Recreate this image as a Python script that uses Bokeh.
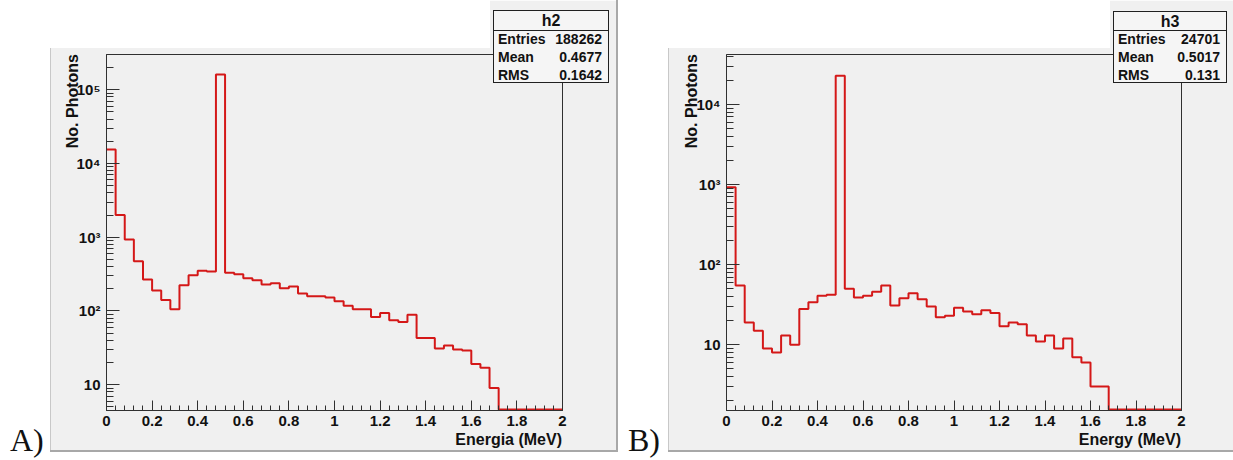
import math
from bokeh.plotting import figure
from bokeh.models import Range1d, FixedTicker, GridBox, Div
from bokeh.embed import file_html
from bokeh.resources import INLINE

# ---------------- data ----------------
X_LO, X_HI, N_BINS = 0.0, 2.0, 50
COUNTS_A = [15500, 2000, 930, 473, 267, 189, 141, 105, 223, 305, 350, 343, 161000,
            329, 315, 278, 261, 228, 238, 203, 214, 172, 158, 158, 152, 135, 118,
            105, 105, 83, 94, 75, 71, 89, 43, 43, 31, 34, 30, 29, 19, 17, 9,
            0, 0, 0, 0, 0, 0, 0]
COUNTS_B = [925, 55, 19, 15, 9, 8, 13, 10, 28, 34, 41, 42, 22800,
            50, 39, 41, 46, 55, 31, 38, 44, 37, 30, 22, 23, 29,
            26, 24, 27, 25, 17, 19, 18, 13, 11, 13, 9, 12, 7, 6, 3, 3,
            0, 0, 0, 0, 0, 0, 0, 0]
X_TICKS = [0.0, 0.2, 0.4, 0.6, 0.8, 1.0, 1.2, 1.4, 1.6, 1.8, 2.0]
X_TICK_LABELS = ["0", "0.2", "0.4", "0.6", "0.8", "1", "1.2", "1.4", "1.6", "1.8", "2"]
Y_TICKS_A = [10, 100, 1000, 10000, 100000]
Y_TICK_LABELS_A = ["10", "10²", "10³", "10⁴", "10⁵"]
Y_TICKS_B = [10, 100, 1000, 10000]
Y_TICK_LABELS_B = ["10", "10²", "10³", "10⁴"]
Y_RANGE_A = (4.46, 3.01e5)
Y_RANGE_B = (1.51, 4.21e4)
STATS_NAMES = ["Entries", "Mean", "RMS"]
STATS_A_TITLE, STATS_A_VALUES = "h2", ["188262", "0.4677", "0.1642"]
STATS_B_TITLE, STATS_B_VALUES = "h3", ["24701", "0.5017", "0.131"]
X_TITLE_A = "Energia (MeV)"
X_TITLE_B = "Energy (MeV)"
Y_TITLE = "No. Photons"
PANEL_LETTERS = ["A)", "B)"]

# ---------------- style ----------------
CANVAS = "#f0f0f0"
FRAME = "#303030"
RED = "#d41818"
SANS = "Liberation Sans"
SERIF = "Liberation Serif"
W, H = 1233, 460


def make_panel(counts, yrange, yticks, ylabels, g):
    fig_left, fig_w = g["fig_left"], g["fig_w"]
    fl, fr, ft, fb = g["frame"]
    p = figure(width=fig_w, height=H,
               x_range=Range1d(X_LO, X_HI), y_range=Range1d(*yrange),
               y_axis_type="log", output_backend="svg", toolbar_location=None,
               title=None,
               min_border_left=fl - fig_left,
               min_border_right=fig_left + fig_w - fr,
               min_border_top=ft,
               min_border_bottom=H - fb)
    p.border_fill_color = CANVAS
    p.background_fill_color = CANVAS
    p.outline_line_color = FRAME
    p.outline_line_width = 1
    p.xgrid.visible = False
    p.ygrid.visible = False

    lmin, lmax = math.log10(yrange[0]), math.log10(yrange[1])
    floor_v = 10 ** (lmin + 1.0 * (lmax - lmin) / (fb - ft))  # empty bins drawn on the floor

    w = (X_HI - X_LO) / N_BINS
    xs, ys = [], []
    for i, c in enumerate(counts):
        v = c if c > 0 else floor_v
        xs += [X_LO + i * w, X_LO + (i + 1) * w]
        ys += [v, v]
    p.line(xs, ys, line_color=RED, line_width=2)

    minor_x = [X_LO + i * w for i in range(N_BINS + 1)]
    p.xaxis.ticker = FixedTicker(ticks=X_TICKS, minor_ticks=minor_x)
    p.xaxis.major_label_overrides = {t: l for t, l in zip(X_TICKS, X_TICK_LABELS)}
    p.xaxis.major_tick_in = 10
    p.xaxis.major_tick_out = 0
    p.xaxis.minor_tick_in = 5
    p.xaxis.minor_tick_out = 0
    p.xaxis.major_label_standoff = 5

    minor_y = [m * 10 ** k for k in range(0, 7) for m in range(2, 10)]
    p.yaxis.ticker = FixedTicker(ticks=yticks, minor_ticks=minor_y)
    p.yaxis.major_label_overrides = {t: l for t, l in zip(yticks, ylabels)}
    p.yaxis.major_tick_in = 13
    p.yaxis.major_tick_out = 0
    p.yaxis.minor_tick_in = 7
    p.yaxis.minor_tick_out = 0
    p.yaxis.major_label_standoff = 6

    for ax in (p.xaxis, p.yaxis):
        ax.axis_line_color = FRAME
        ax.major_tick_line_color = FRAME
        ax.minor_tick_line_color = FRAME
        ax.major_label_text_font = SANS
        ax.major_label_text_font_style = "bold"
        ax.major_label_text_font_size = "15px"
        ax.major_label_text_color = "#111111"
    return p


# ---------- overlay (page pixels) for everything outside the plotting frames ----------
def hbox(l, t, r, b, bg="white", border=""):
    return (f'<div style="position:absolute;box-sizing:border-box;left:{l}px;top:{t}px;'
            f'width:{r - l}px;height:{b - t}px;background:{bg};{border}"></div>')


def htext(x, y, s, align="left", size=14, font=SANS, weight="bold", extra=""):
    tx = {"left": "0", "right": "-100%", "center": "-50%"}[align]
    return (f'<div style="position:absolute;left:{x}px;top:{y}px;white-space:nowrap;'
            f'line-height:1;font-family:\'{font}\';font-weight:{weight};font-size:{size}px;'
            f'color:#111111;transform:translate({tx},-50%);{extra}">{s}</div>')


def hvtext(x, y_top, s, size=16):
    return (f'<div style="position:absolute;left:{x}px;top:{y_top}px;white-space:nowrap;'
            f'line-height:1;font-family:\'{SANS}\';font-weight:bold;font-size:{size}px;'
            f'color:#111111;transform-origin:0 0;'
            f'transform:rotate(-90deg) translate(-100%,-50%);">{s}</div>')


def decorate(g, xtitle, stitle, svalues, letter):
    fl, fr, ft, fb = g["frame"]
    cl, cr, cb = g["canvas"]
    out = []
    out.append(hbox(g["fig_left"], 0, cl, H))            # white page left of canvas
    wl, wr, wb = g["white_top"]
    out.append(hbox(wl, 0, wr, wb))                      # white page above canvas
    out.append(hbox(cl, cb, min(cr, W), H))              # white page below canvas
    out.append(hbox(cl, wb, cl + 1, cb, bg="#c8c8c8"))   # canvas edges
    out.append(hbox(cr - 2, 0, cr, cb, bg="#a8a8a8"))
    out.append(hbox(cl, cb - 2, cr, cb, bg="#a8a8a8"))
    sl, sr, st, sb, ssep = g["stats"]
    out.append(hbox(sl, st, sr, sb, bg="#f5f5f5", border="border:1px solid #202020;"))
    out.append(hbox(sl, st, sr, ssep + 1, bg="transparent", border="border:1px solid #202020;"))
    out.append(htext((sl + sr) / 2, (st + ssep) / 2 + 1, stitle, align="center", size=16))
    row_h = (sb - ssep) / 3
    for i, (n, v) in enumerate(zip(STATS_NAMES, svalues)):
        yy = ssep + row_h * (i + 0.5) + 0.5
        out.append(htext(sl + 5, yy, n, align="left", size=14))
        out.append(htext(sr - 7, yy, v, align="right", size=14))
    out.append(htext(fr, g["xtitle_y"], xtitle, align="right", size=16))
    out.append(hvtext(g["ytitle_x"], ft, Y_TITLE, size=16))
    size = 32
    out.append(f'<div style="position:absolute;left:{g["letter_x"]}px;'
               f'top:{g["letter_base"] - 0.8375 * size:.1f}px;white-space:nowrap;line-height:1;'
               f'font-family:\'{SERIF}\';font-size:{size}px;color:#111111;">{letter}</div>')
    return "".join(out)


GEOM_A = dict(fig_left=0, fig_w=618, frame=(106, 562, 54, 410), canvas=(50, 618, 452),
              white_top=(50, 490, 48), stats=(493, 609, 10, 83, 30),
              xtitle_y=440, ytitle_x=72.5, letter_x=10, letter_base=451)
GEOM_B = dict(fig_left=618, fig_w=615, frame=(726, 1181, 54, 410), canvas=(668, 1235, 452),
              white_top=(668, 1110, 48), stats=(1113, 1227, 11, 83, 30),
              xtitle_y=440, ytitle_x=692, letter_x=628, letter_base=451)

pa = make_panel(COUNTS_A, Y_RANGE_A, Y_TICKS_A, Y_TICK_LABELS_A, GEOM_A)
pb = make_panel(COUNTS_B, Y_RANGE_B, Y_TICKS_B, Y_TICK_LABELS_B, GEOM_B)

html = (f'<div style="position:relative;width:{W}px;height:{H}px;overflow:hidden;">'
        + decorate(GEOM_A, X_TITLE_A, STATS_A_TITLE, STATS_A_VALUES, PANEL_LETTERS[0])
        + decorate(GEOM_B, X_TITLE_B, STATS_B_TITLE, STATS_B_VALUES, PANEL_LETTERS[1])
        + '</div>')
overlay = Div(text=html, width=W, height=H, margin=0,
              styles={"position": "relative", "z-index": "10"})

layout = GridBox(children=[(pa, 0, 0), (pb, 0, 1), (overlay, 0, 0, 1, 2)])
open("out.html", "w").write(file_html(layout, INLINE))
